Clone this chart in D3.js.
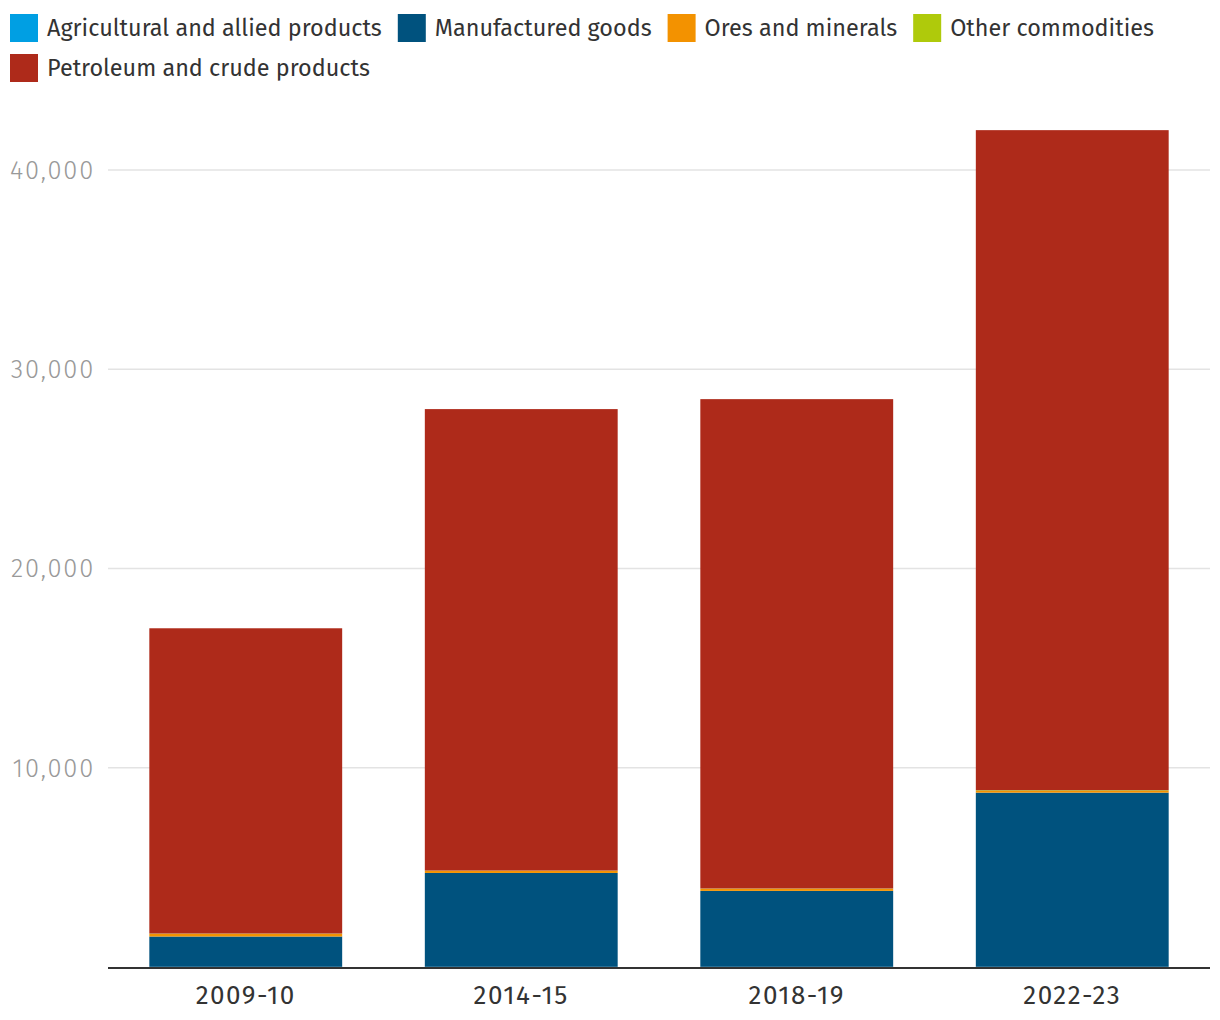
<!DOCTYPE html>
<html>
<head>
<meta charset="utf-8">
<script src="https://cdn.jsdelivr.net/npm/d3@7"></script>
<style>
  html, body { margin: 0; padding: 0; background: #fff; }
  svg { display: block; font-family: "Fira Sans", Roboto, "Open Sans", sans-serif; }
</style>
</head>
<body>
<svg id="chart" width="1220" height="1020"></svg>
<script>
const categories = ["2009-10", "2014-15", "2018-19", "2022-23"];
const seriesNames = ["Agricultural and allied products", "Manufactured goods", "Ores and minerals", "Other commodities", "Petroleum and crude products"];
const agricultural = [10, 10, 10, 10];
const manufactured = [1520, 4710, 3810, 8740];
const ores = [140, 110, 110, 90];
const other = [10, 10, 10, 30];
const petroleum = [15320, 23160, 24560, 33130];
const colors = ["#009fe3", "#00527e", "#f39200", "#afca0b", "#ae2a1a"];
const yTicks = [10000, 20000, 30000, 40000];

const seriesValues = [agricultural, manufactured, ores, other, petroleum];
const rows = categories.map((c, i) => {
  const r = { cat: c };
  seriesNames.forEach((s, j) => r[s] = seriesValues[j][i]);
  return r;
});

const svg = d3.select("#chart");
const left = 108, right = 1210, bottom = 967;
const x = d3.scaleBand().domain(categories).range([left, right]).paddingInner(0.3).paddingOuter(0.15);
const y = d3.scaleLinear().domain([0, 40000]).range([bottom, 170]);

// grid
svg.append("g").selectAll("line").data(yTicks).join("line")
  .attr("x1", left).attr("x2", right)
  .attr("y1", d => y(d)).attr("y2", d => y(d))
  .attr("stroke", "#e3e3e3").attr("stroke-width", 1.5);

// y labels
svg.append("g").selectAll("text").data(yTicks).join("text")
  .attr("x", 95).attr("y", d => y(d)).attr("dy", "0.35em")
  .attr("text-anchor", "end").attr("fill", "#999").attr("font-size", 25.5)
  .attr("font-weight", 300).attr("letter-spacing", 1.8)
  .text(d => d3.format(",")(d));

// bars
const stack = d3.stack().keys(seriesNames)(rows);
svg.append("g").selectAll("g").data(stack).join("g")
  .attr("fill", (d, i) => colors[i])
  .selectAll("rect").data(d => d).join("rect")
  .attr("x", d => x(d.data.cat)).attr("width", x.bandwidth())
  .attr("y", d => y(d[1])).attr("height", d => y(d[0]) - y(d[1]));

// x axis
svg.append("line").attr("x1", left).attr("x2", right)
  .attr("y1", bottom + 1).attr("y2", bottom + 1)
  .attr("stroke", "#333").attr("stroke-width", 2);
svg.append("g").selectAll("text").data(categories).join("text")
  .attr("x", d => x(d) + x.bandwidth() / 2).attr("y", 1004)
  .attr("text-anchor", "middle").attr("fill", "#333").attr("font-size", 26)
  .attr("letter-spacing", 1.5)
  .text(d => d);

// legend
const lg = svg.append("g");
let lx = 10, ly = 14;
seriesNames.forEach((s, i) => {
  const g = lg.append("g");
  const t = g.append("text").attr("x", 37).attr("y", 14).attr("dy", "0.35em")
    .attr("fill", "#333").attr("font-size", 23.4).text(s);
  const w = 37 + t.node().getComputedTextLength();
  if (lx + w > 1215) { lx = 10; ly += 40; }
  g.attr("transform", `translate(${lx},${ly})`);
  g.insert("rect", "text").attr("width", 28).attr("height", 28).attr("fill", colors[i]);
  lx += w + 16;
});
</script>
</body>
</html>
